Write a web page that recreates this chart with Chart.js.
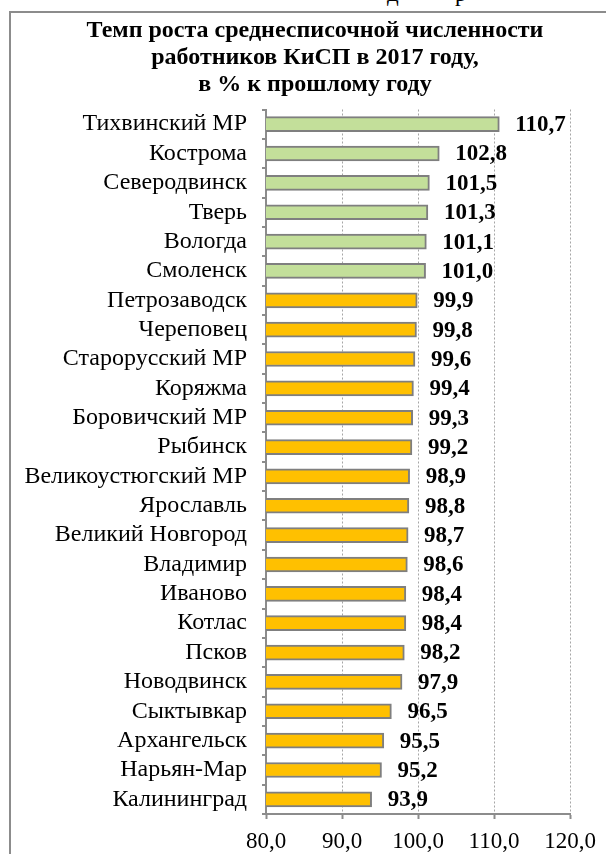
<!DOCTYPE html>
<html lang="ru">
<head>
<meta charset="utf-8">
<title>Темп роста среднесписочной численности работников КиСП</title>
<script src="https://cdn.jsdelivr.net/npm/chart.js@4/dist/chart.umd.min.js"></script>
<style>
  html, body { margin: 0; padding: 0; background: #fff; overflow: hidden; }
  #wrap { position: relative; width: 606px; height: 854px; }
  #frame { position: absolute; left: 9px; top: 11px; width: 700px; height: 900px;
           border-left: 2px solid #8c8c8c; border-top: 2px solid #8c8c8c; }
  .cut { position: absolute; top: -18px; font: 23px "Liberation Serif", serif; color: #000; line-height: 23px; }
  #title { position: absolute; left: 12px; top: 15.7px; width: 606px; text-align: center;
           font: bold 24px/27px "Liberation Serif", "Times New Roman", serif; color: #000; }
  #chart { position: absolute; left: 0; top: 0; }
</style>
</head>
<body>
<div id="wrap">
  <span class="cut" style="left:387px">д</span>
  <span class="cut" style="left:455px">р</span>
  <div id="frame"></div>
  <canvas id="chart" width="606" height="854"></canvas>
  <div id="title"></div>
</div>
<script>
const titleLines = ["Темп роста среднесписочной численности", "работников КиСП в 2017 году,", "в % к прошлому году"];
const cities = ["Тихвинский МР", "Кострома", "Северодвинск", "Тверь", "Вологда", "Смоленск",
  "Петрозаводск", "Череповец", "Старорусский МР", "Коряжма", "Боровичский МР", "Рыбинск",
  "Великоустюгский МР", "Ярославль", "Великий Новгород", "Владимир", "Иваново", "Котлас",
  "Псков", "Новодвинск", "Сыктывкар", "Архангельск", "Нарьян-Мар", "Калининград"];
const growth = [110.7, 102.8, 101.5, 101.3, 101.1, 101.0,
  99.9, 99.8, 99.6, 99.4, 99.3, 99.2,
  98.9, 98.8, 98.7, 98.6, 98.4, 98.4,
  98.2, 97.9, 96.5, 95.5, 95.2, 93.9];
const axisMin = 80, axisMax = 120, axisStep = 10;

const green = "#c3df9a";
const orange = "#ffc000";
const gray = "#8c8c8c";
const serif = "'Liberation Serif', 'Times New Roman', serif";

document.getElementById("title").innerHTML = titleLines.join("<br>");

function fmt(v){
  return v.toFixed(1).replace(".", ",");
}

// подписи значений справа от столбцов
const valueLabels = {
  id: "valueLabels",
  afterDatasetsDraw(chart){
    const ctx = chart.ctx;
    const meta = chart.getDatasetMeta(0);
    ctx.save();
    ctx.font = "bold 23px " + serif;
    ctx.fillStyle = "#000";
    ctx.textAlign = "left";
    ctx.textBaseline = "middle";
    meta.data.forEach((bar, i) => {
      ctx.fillText(fmt(growth[i]), bar.x + 16, bar.y + 1);
    });
    ctx.restore();
  }
};

new Chart(document.getElementById("chart"), {
  type: "bar",
  data: {
    labels: cities,
    datasets: [{
      data: growth,
      backgroundColor: growth.map(v => v > 100 ? green : orange),
      borderColor: "#7f7f7f",
      borderWidth: 2,
      borderSkipped: false,
      barThickness: 15
    }]
  },
  options: {
    indexAxis: "y",
    responsive: false,
    animation: false,
    layout: { padding: { left: 0, right: 36, top: 109.5, bottom: 0 } },
    plugins: {
      legend: { display: false },
      tooltip: { enabled: false },
      title: { display: false }
    },
    scales: {
      x: {
        min: axisMin,
        max: axisMax,
        afterFit(scale){ scale.height = 40; },
        ticks: {
          stepSize: axisStep,
          color: "#000",
          padding: 9,
          maxRotation: 0,
          font: { family: serif, size: 23 },
          callback: v => fmt(v)
        },
        grid: {
          color: "#a6a6a6",
          lineWidth: 1,
          tickLength: 5,
          tickColor: gray,
          tickWidth: 2,
          tickBorderDash: []
        },
        border: { display: true, color: gray, width: 2, dash: [2, 2] }
      },
      y: {
        afterFit(scale){ scale.width = 266; },
        ticks: {
          color: "#000",
          padding: 15,
          autoSkip: false,
          font: { family: serif, size: 24 }
        },
        grid: {
          offset: true,
          drawOnChartArea: false,
          tickLength: 4,
          color: gray,
          lineWidth: 2
        },
        border: { display: true, color: gray, width: 2 }
      }
    }
  },
  plugins: [valueLabels]
});
</script>
</body>
</html>
